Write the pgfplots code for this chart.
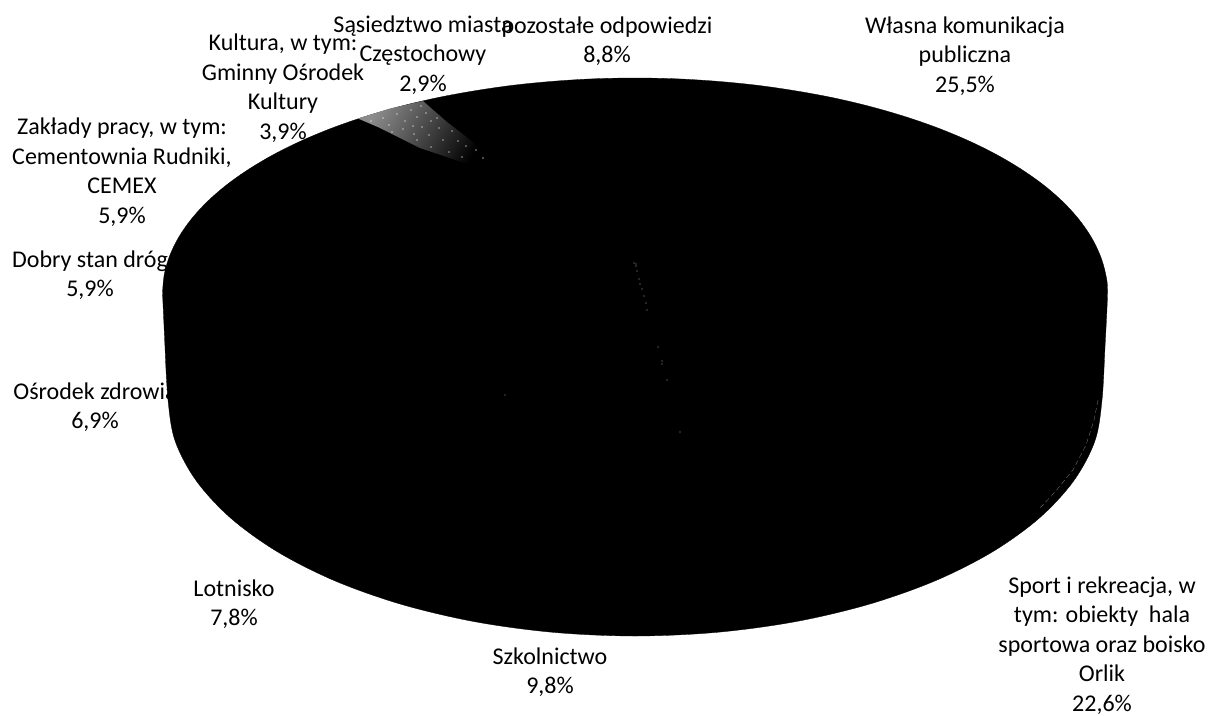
\documentclass[border=0pt]{standalone}
\usepackage{pgfplots}
\pgfplotsset{compat=1.18}
\usepackage{fontspec}
\setmainfont{Carlito}
\tikzset{lbl/.style={font=\fontsize{24}{29.5}\selectfont, align=center, inner sep=0pt, text=black}}
\begin{document}
\begin{tikzpicture}
\begin{axis}[
  scale only axis, width=1218pt, height=715pt,
  xmin=0, xmax=1218, ymin=0, ymax=715, y dir=reverse,
  hide axis, clip=false
]
\path (axis cs:0,0) rectangle (axis cs:1218,715);
% pie outline (top face + wall)
\addplot[fill=black, draw=black, line width=0.3pt, smooth, tension=0.55] coordinates {
(162.5,293)(164.3,274.3)(169.7,255.7)(178.6,237.4)(191,219.5)(206.8,202.1)(225.8,185.5)(248,169.7)(273.1,154.8)(300.9,141)(331.3,128.3)(364,116.9)(398.7,106.8)(435.3,98.1)(473.4,91)(512.7,85.3)(553,81.3)(593.8,78.8)(635,78)(676.2,78.8)(717,81.3)(757.3,85.3)(796.6,91)(834.7,98.1)(871.3,106.8)(906,116.9)(938.7,128.3)(969.1,141)(996.9,154.8)(1022,169.7)(1044.2,185.5)(1063.2,202.1)(1079,219.5)(1091.4,237.4)(1100.3,255.7)(1105.7,274.3)(1107.5,293)(1105,347)(1102,400)(1094.9,441)(1073.8,480.7)(1039.4,518)(992.7,551.7)(935.2,580.8)(868.5,604.4)(794.7,621.8)(716.1,632.4)(635,636)(553.9,632.4)(475.3,621.8)(401.5,604.4)(334.8,580.8)(277.3,551.7)(230.6,518)(196.2,480.7)(175.1,441)(168,400)(165,347)
} --cycle;
% lighter speckled wedge: Sasiedztwo miasta slice
\addplot[draw=none, shading=axis, top color=black!45!white, middle color=black!78!white, bottom color=black, shading angle=60] coordinates {(358,118.5)(390,108.5)(423,101)(447,122)(473,142)(490,165)(470,165)(420,148)(380,128)} --cycle;
\addplot[only marks, mark=*, mark size=0.4pt, color=white, mark options={draw=none}] coordinates {
(371,121)(383,118)(389,125)(397,114)(405,121)(411,110)(417,117)(421,106)(426,113)(413,126)(403,129)(392,132)(431,121)(437,118)(422,127)(414,134)(439,128)(429,135)(417,140)(452,131)(443,140)(458,141)(431,147)(466,146)(476,150)(449,152)(483,158)(462,157)};
% thin edge line at lower right
\addplot[gray, line width=0.3pt, dash pattern=on 5pt off 3pt] coordinates {(1098,400)(1094,420)(1086,445)(1073,470)(1055,492)(1040,508)};
% faint dots on the slice borders
\addplot[only marks, mark=*, mark size=0.45pt, color=gray, mark options={draw=none}] coordinates {
(634,263)(636,264)(636,266)(637,271)(639,279)(640,284)(642,289)(644,296)(646,303)(647,310)(658,347)(662,361)(662,364)(667,380)(680,432)(505,395)};
\node[lbl] at (axis cs:965,56) {Własna komunikacja\\publiczna\\25,5\%};
\node[lbl] at (axis cs:607,41) {pozostałe odpowiedzi\\8,8\%};
\node[lbl] at (axis cs:423,55) {Sąsiedztwo miasta\\Częstochowy\\2,9\%};
\node[lbl] at (axis cs:283,88) {Kultura, w tym:\\Gminny Ośrodek\\Kultury\\3,9\%};
\node[lbl] at (axis cs:122,172) {Zakłady pracy, w tym:\\Cementownia Rudniki,\\CEMEX\\5,9\%};
\node[lbl] at (axis cs:90,275) {Dobry stan dróg\\5,9\%};
\node[lbl] at (axis cs:95,407) {Ośrodek zdrowia\\6,9\%};
\node[lbl] at (axis cs:234,604) {Lotnisko\\7,8\%};
\node[lbl] at (axis cs:550,672) {Szkolnictwo\\9,8\%};
\node[lbl] at (axis cs:1102,645.5) {Sport i rekreacja, w\\tym: obiekty~ hala\\sportowa oraz boisko\\Orlik\\22,6\%};
\end{axis}
\end{tikzpicture}
\end{document}
